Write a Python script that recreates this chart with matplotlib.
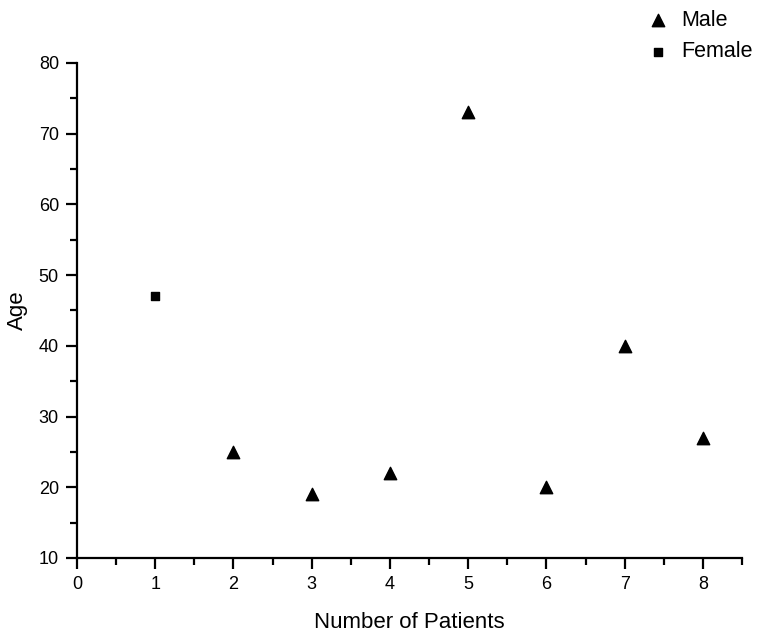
import matplotlib
matplotlib.use("Agg")
import matplotlib.pyplot as plt
from matplotlib.ticker import MultipleLocator

plt.rcParams['font.family'] = ['Liberation Sans', 'DejaVu Sans']

male_patients = [2, 3, 4, 5, 6, 7, 8]
male_ages = [25, 19, 22, 73, 20, 40, 27]
female_patients = [1]
female_ages = [47]


def main() -> None:
    """Scatter of patient age by sex."""
    fig = plt.figure(figsize=(7.63, 6.38), dpi=100)
    ax = fig.add_axes([0.1009, 0.1254, 0.8716, 0.7759])
    ax.scatter(male_patients, male_ages, marker='^', s=80, color='black',
               label='Male', clip_on=False)
    ax.scatter(female_patients, female_ages, marker='s', s=40, color='black',
               label='Female', clip_on=False)
    ax.set_xlim(0, 8.5)
    ax.set_ylim(10, 80)
    ax.xaxis.set_major_locator(MultipleLocator(1))
    ax.xaxis.set_minor_locator(MultipleLocator(0.5))
    ax.yaxis.set_major_locator(MultipleLocator(10))
    ax.yaxis.set_minor_locator(MultipleLocator(5))
    for side in ('top', 'right'):
        ax.spines[side].set_visible(False)
    for side in ('left', 'bottom'):
        ax.spines[side].set_linewidth(1.6)
    ax.tick_params(which='major', direction='out', length=8, width=1.6,
                   labelsize=13, pad=5)
    ax.tick_params(which='minor', direction='out', length=5, width=1.6)
    ax.set_xlabel('Number of Patients', fontsize=16, labelpad=14)
    ax.set_ylabel('Age', fontsize=16, labelpad=8)
    ax.legend(loc='upper left', bbox_to_anchor=(0.833, 1.0),
              bbox_transform=fig.transFigure, frameon=False,
              fontsize=15.5, handletextpad=0.45, labelspacing=0.5,
              borderaxespad=0, borderpad=0.45, handlelength=1.2)
    fig.savefig('out.png', dpi=100)
    plt.close(fig)


if __name__ == '__main__':
    main()
